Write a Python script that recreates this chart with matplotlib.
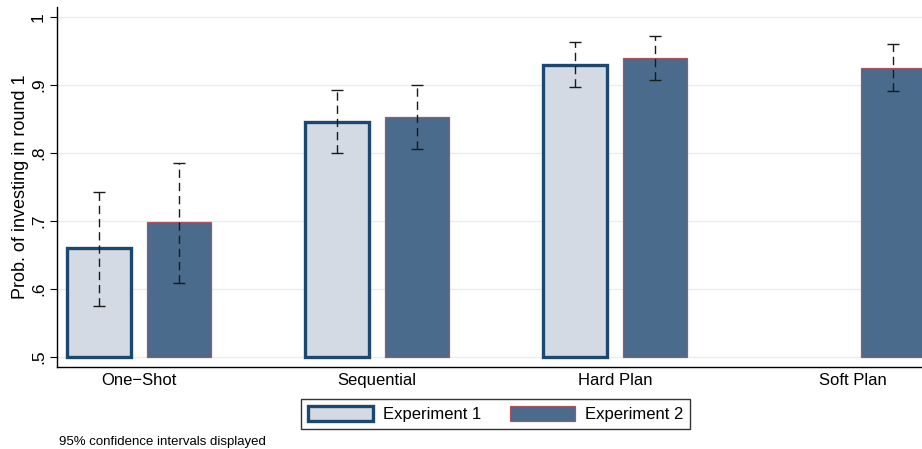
import numpy as np
import matplotlib
matplotlib.use("Agg")
import matplotlib.pyplot as plt

plt.rcParams['font.family'] = ['Liberation Sans', 'DejaVu Sans']

# Data
treatments = ["One\u2212Shot", "Sequential", "Hard Plan", "Soft Plan"]
exp1_mean = [0.660, 0.846, 0.930, np.nan]
exp1_lo = [0.575, 0.800, 0.897, np.nan]
exp1_hi = [0.743, 0.893, 0.963, np.nan]
exp2_mean = [0.698, 0.853, 0.939, 0.925]
exp2_lo = [0.609, 0.806, 0.908, 0.891]
exp2_hi = [0.786, 0.900, 0.972, 0.961]
yticks = [0.5, 0.6, 0.7, 0.8, 0.9, 1.0]
ytick_labels = [".5", ".6", ".7", ".8", ".9", "1"]

EXP1_FILL = "#d3dae3"
EXP1_EDGE = "#1c4870"
EXP2_FILL = "#4a6b8c"
EXP2_EDGE = "#b05060"
BASE = 0.5

fig = plt.figure(figsize=(9.22, 4.49), dpi=100)
ax = fig.add_axes([57 / 922, 1 - 367 / 449, 878 / 922, 360 / 449])

x = np.arange(len(treatments))
off = 0.168
w = 0.268

e1 = np.array(exp1_mean)
e2 = np.array(exp2_mean)
b1 = ax.bar(x - off, e1 - BASE, w, bottom=BASE, color=EXP1_FILL,
            edgecolor=EXP1_EDGE, linewidth=2.4, zorder=2, label="Experiment 1")
b2 = ax.bar(x + off, e2 - BASE, w, bottom=BASE, color=EXP2_FILL,
            edgecolor=EXP2_EDGE, linewidth=0.9, zorder=2, label="Experiment 2")


def draw_ci(xs, mean, lo, hi):
    mean = np.array(mean)
    err = np.vstack([mean - np.array(lo), np.array(hi) - mean])
    eb = ax.errorbar(xs, mean, yerr=err, fmt="none", ecolor="#1a1a1a",
                     elinewidth=1.0, capsize=4, capthick=1.0, zorder=3)
    eb[2][0].set_linestyle((0, (6, 3.5)))


draw_ci(x - off, exp1_mean, exp1_lo, exp1_hi)
draw_ci(x + off, exp2_mean, exp2_lo, exp2_hi)

ax.set_xlim(-0.345, 3.345)
ax.set_ylim(0.4853, 1.0147)
ax.set_yticks(yticks)
ax.set_yticklabels(ytick_labels, rotation=90, va="center")
ax.set_xticks(x)
ax.set_xticklabels(treatments)
ax.tick_params(axis="y", direction="out", length=5, width=0.8, labelsize=12.5, pad=3)
ax.tick_params(axis="x", length=0, labelsize=12, pad=4)
ax.set_ylabel("Prob. of investing in round 1", fontsize=13, labelpad=1.5)
ax.yaxis.grid(True, color="#e6eff0", linewidth=1.0, zorder=0)
ax.set_axisbelow(True)
for s in ["top", "right"]:
    ax.spines[s].set_visible(False)
for s in ["left", "bottom"]:
    ax.spines[s].set_linewidth(1.0)

leg = fig.legend(handles=[b1, b2], loc="center", bbox_to_anchor=(495.5 / 922, 1 - 414 / 449),
                 ncol=2, fontsize=12, frameon=True, fancybox=False, edgecolor="black",
                 handlelength=3.9, handleheight=1.0, handletextpad=0.6, columnspacing=1.7,
                 borderpad=0.4, borderaxespad=0)
leg.get_frame().set_linewidth(1.0)

fig.text(59 / 922, 1 - 442 / 449, "95% confidence intervals displayed", fontsize=9.5, va="center")

fig.savefig("out.png", dpi=100)
